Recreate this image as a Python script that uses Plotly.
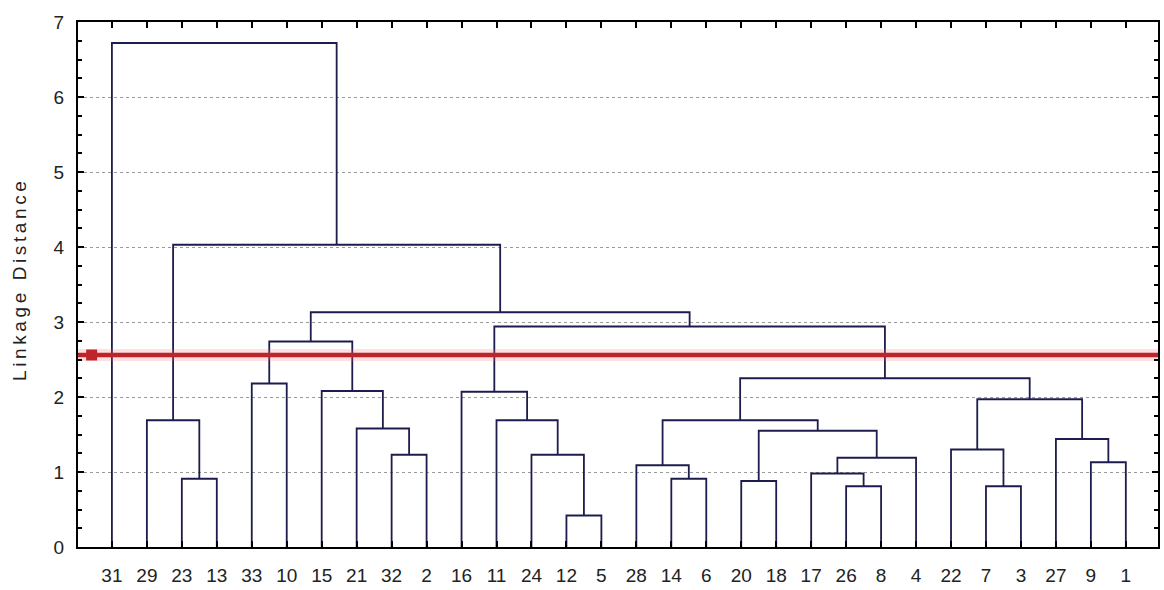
import plotly.graph_objects as go

# ---- data ----
leaf_order = [31, 29, 23, 13, 33, 10, 15, 21, 32, 2, 16, 11, 24, 12, 5,
              28, 14, 6, 20, 18, 17, 26, 8, 4, 22, 7, 3, 27, 9, 1]

# merges: (left child, right child, linkage distance); "mK" refers to merge K
merge_left = [23, 29, 33, 32, 21, 15, "m2", 12, 24, 11, 16, 14, 28, 20, 26, 17,
              "m15", "m13", "m12", 7, 22, 9, 27, "m20", "m18", "m10", "m6", "m1", 31]
merge_right = [13, "m0", 10, 2, "m3", "m4", "m5", 5, "m7", "m8", "m9", 6, "m11", 18, 8, "m14",
               4, "m16", "m17", 3, "m19", 1, "m21", "m22", "m23", "m24", "m25", "m26", "m27"]
merge_height = [0.91, 1.69, 2.18, 1.23, 1.58, 2.08, 2.74, 0.42, 1.23, 1.69, 2.07, 0.91,
                1.09, 0.88, 0.81, 0.98, 1.19, 1.55, 1.69, 0.81, 1.30, 1.13, 1.44, 1.97,
                2.25, 2.94, 3.13, 4.03, 6.72]

cut_distance = 2.56
y_ticks = [0, 1, 2, 3, 4, 5, 6, 7]

# ---- build dendrogram paths ----
pos = {lab: i + 1 for i, lab in enumerate(leaf_order)}


def node(ref, centers, heights):
    if isinstance(ref, str):
        k = int(ref[1:])
        return centers[k], heights[k]
    return pos[ref], 0.0


xs, ys = [], []
centers, heights = [], []
for a, b, h in zip(merge_left, merge_right, merge_height):
    xa, ha = node(a, centers, heights)
    xb, hb = node(b, centers, heights)
    xs += [xa, xa, xb, xb, None]
    ys += [ha, h, h, hb, None]
    centers.append((xa + xb) / 2)
    heights.append(h)

XR = [0.03, 30.92]

fig = go.Figure()
fig.add_trace(go.Scatter(x=xs, y=ys, mode="lines",
                         line=dict(color="#1c1c4e", width=1.8),
                         hoverinfo="skip", showlegend=False))
# cut line with soft halo
fig.add_trace(go.Scatter(x=XR, y=[cut_distance, cut_distance], mode="lines",
                         line=dict(color="rgba(235,120,120,0.22)", width=12),
                         hoverinfo="skip", showlegend=False))
fig.add_trace(go.Scatter(x=XR, y=[cut_distance, cut_distance], mode="lines",
                         line=dict(color="#c0232a", width=4.5),
                         hoverinfo="skip", showlegend=False))
fig.add_trace(go.Scatter(x=[0.42], y=[cut_distance], mode="markers",
                         marker=dict(symbol="square", size=11, color="#c0232a"),
                         hoverinfo="skip", showlegend=False))

font_main = dict(family="Liberation Sans, Arial, sans-serif", size=19, color="#222")

fig.update_layout(
    width=1164, height=590,
    margin=dict(l=78, r=4, t=22, b=42),
    paper_bgcolor="white", plot_bgcolor="white",
    font=font_main,
    xaxis=dict(range=XR, tickmode="array",
               tickvals=[pos[l] for l in leaf_order],
               ticktext=[str(l) for l in leaf_order],
               ticks="inside", ticklen=6, tickwidth=2, tickcolor="black",
               showline=True, linecolor="black", linewidth=2, mirror="allticks",
               showgrid=False, zeroline=False, ticklabelstandoff=10,
               tickfont=font_main),
    yaxis=dict(range=[0, 7], tickmode="array", tickvals=y_ticks,
               ticktext=[str(v) for v in y_ticks],
               ticks="inside", ticklen=6, tickwidth=2, tickcolor="black",
               minor=dict(dtick=0.25, ticks="inside", ticklen=4, tickwidth=1.5,
                          tickcolor="black", showgrid=False),
               showline=True, linecolor="black", linewidth=2, mirror="allticks",
               showgrid=True, gridcolor="#9a9a9a", griddash="dot", gridwidth=1,
               zeroline=False, ticklabelstandoff=8, tickfont=font_main),
    annotations=[dict(
        text='<span style="letter-spacing:3.6px">Linkage Distance</span>',
        xref="paper", yref="paper", x=-0.054, y=0.51,
        xanchor="center", yanchor="middle", textangle=-90, showarrow=False,
        font=dict(family="Liberation Sans, Arial, sans-serif", size=19, color="#222"))],
)

fig.write_html("out.html", config={"displayModeBar": False},
               post_script="document.body.style.margin='0';document.body.style.overflow='hidden';")
